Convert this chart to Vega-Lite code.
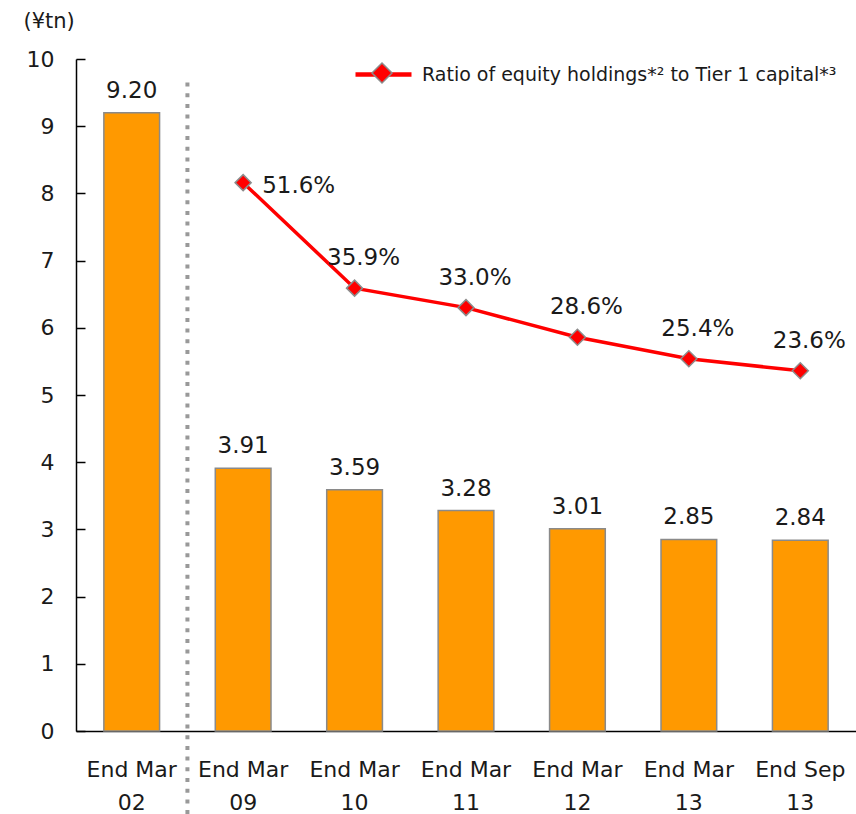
{
  "$schema": "https://vega.github.io/schema/vega-lite/v6.json",
  "autosize": {"type": "none"},
  "padding": {"left": 76, "top": 59, "right": 0, "bottom": 83},
  "width": 780,
  "height": 672,
  "background": "white",
  "config": {
    "view": {"stroke": null},
    "font": "DejaVu Sans",
    "axis": {"labelColor": "#1a1a1a", "labelFont": "DejaVu Sans", "titleFont": "DejaVu Sans", "grid": false},
    "legend": {"labelFont": "DejaVu Sans", "labelColor": "#1a1a1a"}
  },
  "data": {
    "values": [
      {"period": "End Mar 02", "holdings": 9.20, "ratio": null},
      {"period": "End Mar 09", "holdings": 3.91, "ratio": 0.516},
      {"period": "End Mar 10", "holdings": 3.59, "ratio": 0.359},
      {"period": "End Mar 11", "holdings": 3.28, "ratio": 0.330},
      {"period": "End Mar 12", "holdings": 3.01, "ratio": 0.286},
      {"period": "End Mar 13", "holdings": 2.85, "ratio": 0.254},
      {"period": "End Sep 13", "holdings": 2.84, "ratio": 0.236}
    ]
  },
  "resolve": {"scale": {"y": "independent"}},
  "layer": [
    {
      "layer": [
        {
          "mark": {"type": "bar", "color": "#FF9900", "stroke": "#8a8a8a", "strokeWidth": 1.5},
          "encoding": {
            "x": {
              "field": "period", "type": "nominal", "sort": null,
              "scale": {"paddingInner": 0.5, "paddingOuter": 0.25},
              "axis": {
                "title": null, "ticks": false, "labelAngle": 0,
                "domainColor": "#000000", "domainWidth": 1.5,
                "labelFontSize": 22, "labelPadding": 28, "labelLineHeight": 33,
                "labelExpr": "[substring(datum.label, 0, 7), substring(datum.label, 8)]"
              }
            },
            "y": {
              "field": "holdings", "type": "quantitative",
              "scale": {"domain": [0, 10], "nice": false},
              "axis": {
                "values": [0, 1, 2, 3, 4, 5, 6, 7, 8, 9, 10], "format": "d",
                "title": "(¥tn)", "titleAngle": 0, "titleAlign": "left", "titleBaseline": "middle",
                "titleX": -53, "titleY": -38, "titleFontSize": 21, "titleFontWeight": "normal", "titleColor": "#1a1a1a",
                "domainColor": "#000000", "domainWidth": 1.5,
                "tickColor": "#000000", "tickWidth": 1.5, "tickSize": -9,
                "labelFontSize": 22, "labelPadding": 31
              }
            }
          }
        },
        {
          "mark": {"type": "text", "fontSize": 23, "color": "#1a1a1a", "baseline": "middle", "dy": -22},
          "encoding": {
            "x": {"field": "period", "type": "nominal", "sort": null},
            "y": {"field": "holdings", "type": "quantitative"},
            "text": {"field": "holdings", "type": "quantitative", "format": ".2f"}
          }
        },
        {
          "transform": [{"filter": "datum.period === 'End Mar 09'"}],
          "mark": {"type": "rule", "color": "#999999", "strokeWidth": 4, "strokeDash": [4, 6.7]},
          "encoding": {
            "x": {"field": "period", "type": "nominal", "sort": null, "bandPosition": -0.5},
            "y": {"datum": 9.65},
            "y2": {"datum": -1.25}
          }
        }
      ]
    },
    {
      "transform": [{"filter": "datum.ratio != null"}],
      "layer": [
        {
          "mark": {"type": "line", "strokeWidth": 3.5},
          "encoding": {
            "x": {"field": "period", "type": "nominal", "sort": null},
            "y": {"field": "ratio", "type": "quantitative", "scale": {"domain": [-0.3, 0.7], "nice": false, "zero": false}, "axis": null},
            "stroke": {
              "datum": "Ratio of equity holdings*² to Tier 1 capital*³",
              "scale": {"range": ["#FF0000"]},
              "legend": {
                "title": null, "orient": "none", "legendX": 277, "legendY": -15,
                "symbolType": "stroke", "symbolSize": 3136, "symbolStrokeWidth": 4.5,
                "labelFontSize": 19, "labelOffset": 8, "labelLimit": 600
              }
            }
          }
        },
        {
          "mark": {"type": "point", "shape": "diamond", "filled": true, "size": 256, "stroke": "#8c8c8c", "strokeWidth": 1.5, "opacity": 1},
          "encoding": {
            "x": {"field": "period", "type": "nominal", "sort": null},
            "y": {"field": "ratio", "type": "quantitative"},
            "fill": {
              "datum": "marker",
              "scale": {"range": ["#FF0000"]},
              "legend": {
                "title": null, "orient": "none", "legendX": 295, "legendY": 3,
                "symbolType": "diamond", "symbolSize": 400,
                "symbolStrokeColor": "#8c8c8c", "symbolStrokeWidth": 1.5,
                "labelExpr": "''"
              }
            }
          }
        },
        {
          "transform": [{"filter": "datum.period === 'End Mar 09'"}],
          "mark": {"type": "text", "fontSize": 23, "color": "#1a1a1a", "align": "left", "baseline": "middle", "dx": 19, "dy": 3},
          "encoding": {
            "x": {"field": "period", "type": "nominal", "sort": null},
            "y": {"field": "ratio", "type": "quantitative"},
            "text": {"field": "ratio", "type": "quantitative", "format": ".1%"}
          }
        },
        {
          "transform": [{"filter": "datum.period !== 'End Mar 09'"}],
          "mark": {"type": "text", "fontSize": 23, "color": "#1a1a1a", "align": "center", "baseline": "middle", "dx": 9, "dy": -30},
          "encoding": {
            "x": {"field": "period", "type": "nominal", "sort": null},
            "y": {"field": "ratio", "type": "quantitative"},
            "text": {"field": "ratio", "type": "quantitative", "format": ".1%"}
          }
        }
      ]
    }
  ]
}
